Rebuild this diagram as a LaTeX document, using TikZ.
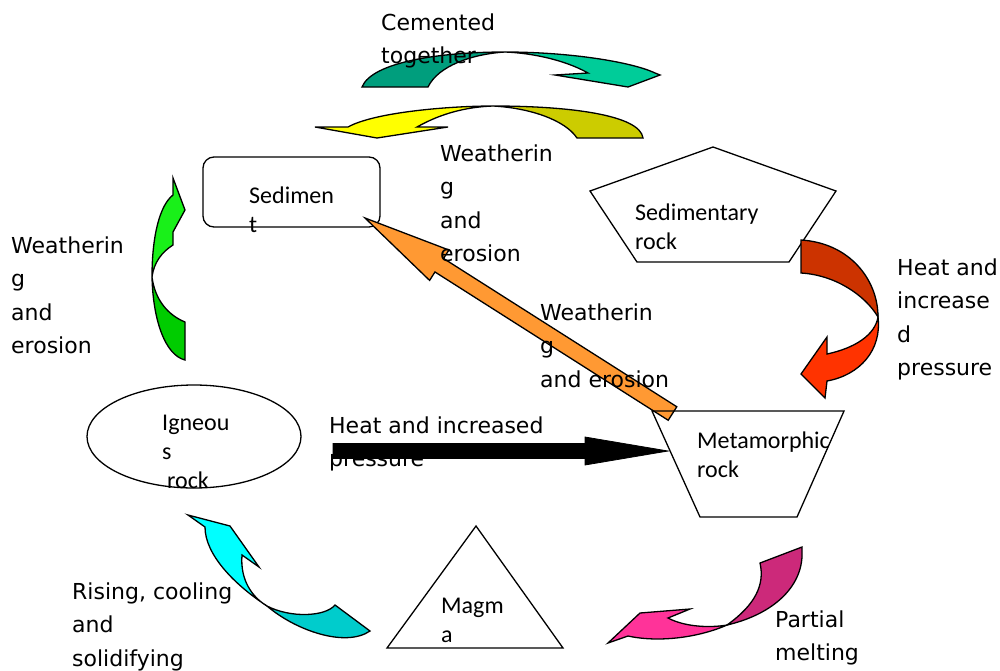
\documentclass[tikz,border=0pt]{standalone}
\usepackage{fontspec}
\setmainfont{DejaVu Sans}
\newfontfamily\shapefont{Carlito}
\usetikzlibrary{calc,shapes.geometric}

\definecolor{tealdark}{RGB}{0,158,125}
\definecolor{teallight}{RGB}{0,204,153}
\definecolor{olivedark}{RGB}{204,204,0}
\definecolor{yellowlight}{RGB}{255,255,0}
\definecolor{greenlight}{RGB}{25,240,25}
\definecolor{greendark}{RGB}{0,204,0}
\definecolor{reddark}{RGB}{204,51,0}
\definecolor{redlight}{RGB}{255,51,0}
\definecolor{cyanlight}{RGB}{0,255,255}
\definecolor{cyandark}{RGB}{0,204,204}
\definecolor{pinkdark}{RGB}{204,41,122}
\definecolor{pinklight}{RGB}{255,51,153}
\definecolor{orangefill}{RGB}{255,153,51}

% straight block arrow: tail, tip, half shaft, half head, head length, style
\newcommand\blockarrow[6]{%
  \coordinate (#1-base) at ($(#2)!#5!(#1)$);
  \draw[#6] ($(#1)!#3!90:(#2)$) -- ($(#1-base)!#3!-90:(#1)$)
    -- ($(#1-base)!#4!-90:(#1)$) -- (#2)
    -- ($(#1-base)!#4!90:(#1)$) -- ($(#1-base)!#3!90:(#1)$)
    -- ($(#1)!#3!-90:(#2)$) -- cycle;
}

\begin{document}
\begin{tikzpicture}[x=1pt,y=-1pt,
  outline/.style={draw=black,line width=1.3pt},
  % multi-line labels are placed by the baseline of their last line
  lbl/.style={anchor=base west,align=left,inner sep=0pt,
    font=\fontsize{22}{33.5}\selectfont},
  inlbl/.style={anchor=base west,align=left,inner sep=0pt,
    font=\shapefont\fontsize{24}{29}\selectfont},
]
\useasboundingbox (0,0) rectangle (1000,670);

% rock-cycle stations
\node[outline,rounded corners=11pt,minimum width=177pt,minimum height=70pt,
  inner sep=0pt] (sediment) at (291.5,192) {};
\node[outline,ellipse,minimum width=214pt,minimum height=103pt,
  inner sep=0pt] (igneous) at (194,436.5) {};
\coordinate (pentA) at (713,147);
\coordinate (pentB) at (836,191);
\coordinate (pentC) at (789,262);
\coordinate (pentD) at (637,262);
\coordinate (pentE) at (590,191);
\draw[outline] (pentA) -- (pentB) -- (pentC) -- (pentD) -- (pentE) -- cycle;
\coordinate (triA) at (476,526);
\coordinate (triB) at (563,648);
\coordinate (triC) at (387,648);
\draw[outline] (triA) -- (triB) -- (triC) -- cycle;

% curved arrows: cemented together (teal)
\draw[outline,fill=tealdark] (362,87) .. controls (372,62) and (440,52) .. (505,52)
  .. controls (472,54) and (438,66) .. (428,87) -- cycle;
\draw[outline,fill=teallight] (505,52) .. controls (570,52) and (632,62) .. (655,73)
  -- (660,75) -- (628,87) -- (555,75) -- (588,73)
  .. controls (565,60) and (532,53) .. (505,52) -- cycle;

% weathering and erosion (yellow)
\draw[outline,fill=olivedark] (643,138) .. controls (640,115) and (570,106) .. (493,106)
  .. controls (530,108) and (565,120) .. (577,138) -- cycle;
\draw[outline,fill=yellowlight] (493,106) .. controls (450,106) and (375,112) .. (348,127)
  -- (315,127) -- (377,138) -- (448,127) -- (417,127)
  .. controls (440,114) and (465,107) .. (493,106) -- cycle;

% weathering and erosion (green)
\draw[outline,fill=greendark] (152,277) .. controls (153,320) and (165,355) .. (185,360)
  -- (185,322) .. controls (168,315) and (155,300) .. (152,277) -- cycle;
\draw[outline,fill=greenlight] (152,277) .. controls (152,235) and (160,205) .. (173,195)
  -- (173,178) -- (185,210) -- (173,232) -- (173,245)
  .. controls (162,252) and (154,262) .. (152,277) -- cycle;

% heat and increased pressure (red)
\draw[outline,fill=reddark] (801,240) .. controls (850,243) and (878,280) .. (878,317)
  .. controls (865,295) and (835,275) .. (801,273) -- cycle;
\draw[outline,fill=redlight] (878,317) .. controls (882,350) and (860,375) .. (827,381)
  -- (825,398) -- (801,374) -- (827,337) -- (827,354)
  .. controls (855,348) and (875,335) .. (878,317) -- cycle;

% rising, cooling and solidifying (cyan)
\draw[outline,fill=cyanlight] (267,606) .. controls (235,585) and (205,555) .. (205,527)
  -- (188,515) -- (230,526) -- (259,567) -- (242,555)
  .. controls (240,580) and (252,597) .. (267,606) -- cycle;
\draw[outline,fill=cyandark] (267,606) .. controls (295,630) and (345,648) .. (370,631)
  -- (335,605) .. controls (325,617) and (290,618) .. (267,606) -- cycle;

% partial melting (pink)
\draw[outline,fill=pinkdark] (802,547) -- (802,557) .. controls (800,590) and (770,615) .. (727,625)
  .. controls (755,605) and (765,585) .. (760,563) -- cycle;
\draw[outline,fill=pinklight] (727,625) .. controls (700,637) and (660,643) .. (628,636)
  -- (608,643) -- (640,613) -- (690,609) -- (668,618)
  .. controls (685,627) and (710,628) .. (727,625) -- cycle;

% weathering of metamorphic rock (orange)
\coordinate (orTail) at (672.5,413.5);
\coordinate (orTip) at (365,218);
\blockarrow{orTail}{orTip}{8pt}{18pt}{88pt}{outline,fill=orangefill}

% metamorphic trapezium drawn over the orange tail
\coordinate (trapA) at (652,411);
\coordinate (trapB) at (844,411);
\coordinate (trapC) at (797,517);
\coordinate (trapD) at (700,517);
\draw[outline] (trapA) -- (trapB) -- (trapC) -- (trapD) -- cycle;

% label partly hidden by the black arrow
\node[lbl] (lHeat2) at (329,466.5) {Heat and increased\\pressure};

% heat and increased pressure (black)
\coordinate (blTail) at (333,451);
\coordinate (blTip) at (668,451);
\blockarrow{blTail}{blTip}{7.5pt}{14pt}{83pt}{draw=black,fill=black,line width=0.8pt}

% station names
\node[inlbl] (tSed) at (249,232) {Sedimen\\t};
\node[inlbl] (tSedRock) at (635,249) {Sedimentary\\rock};
\node[inlbl] (tIgn) at (162,488) {Igneou\\s\\\hspace{5pt}rock};
\node[inlbl] (tMeta) at (697,477) {Metamorphic\\rock};
\node[inlbl] (tMagma) at (441,642) {Magm\\a};

% process labels
\node[lbl] (lCem) at (381,63.5) {Cemented\\together};
\node[lbl] (lWe1) at (440,261.5) {Weatherin\\g\\and\\erosion};
\node[lbl] (lWe2) at (11,353.5) {Weatherin\\g\\and\\erosion};
\node[lbl] (lWe3) at (540,387) {Weatherin\\g\\and erosion};
\node[lbl] (lHeat1) at (897,375.5) {Heat and\\increase\\d\\pressure};
\node[lbl] (lRise) at (72,666) {Rising, cooling\\and\\solidifying};
\node[lbl] (lPart) at (775,660.5) {Partial\\melting};
\end{tikzpicture}
\end{document}
